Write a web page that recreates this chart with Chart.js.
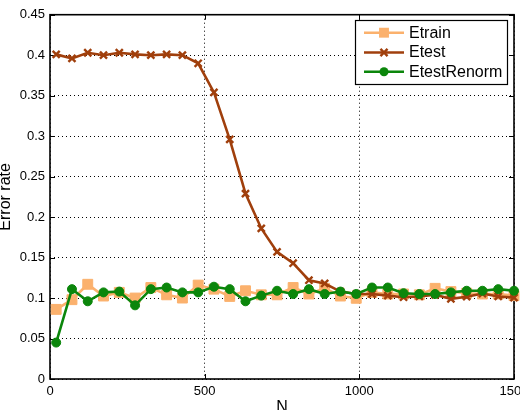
<!DOCTYPE html>
<html>
<head>
<meta charset="utf-8">
<script src="https://cdn.jsdelivr.net/npm/chart.js@4/dist/chart.umd.min.js"></script>
<style>
html,body{margin:0;padding:0;background:#fff;overflow:hidden;width:520px;height:410px;}
#wrap{position:absolute;left:0;top:0;width:540px;height:430px;}
</style>
</head>
<body>
<div id="wrap"><canvas id="c" width="540" height="430"></canvas></div>
<script>
const N = [20, 71, 122, 173, 224, 275, 326, 377, 428, 479, 530, 581, 632, 683, 734, 786, 837, 888, 939, 990, 1041, 1092, 1143, 1194, 1245, 1296, 1347, 1398, 1449, 1500];
const etrain = [0.086, 0.098, 0.117, 0.1025, 0.107, 0.100, 0.113, 0.104, 0.100, 0.116, 0.111, 0.102, 0.109, 0.104, 0.104, 0.113, 0.105, 0.112, 0.1025, 0.0997, 0.107, 0.105, 0.105, 0.104, 0.112, 0.108, 0.106, 0.105, 0.105, 0.103];
const etest = [0.401, 0.396, 0.403, 0.400, 0.403, 0.401, 0.400, 0.401, 0.400, 0.390, 0.354, 0.296, 0.229, 0.186, 0.157, 0.143, 0.122, 0.118, 0.108, 0.105, 0.105, 0.103, 0.101, 0.102, 0.104, 0.099, 0.1017, 0.1055, 0.102, 0.1005];
const etestRenorm = [0.045, 0.111, 0.096, 0.107, 0.108, 0.091, 0.111, 0.113, 0.107, 0.107, 0.114, 0.111, 0.096, 0.103, 0.109, 0.105, 0.111, 0.105, 0.108, 0.105, 0.113, 0.113, 0.106, 0.105, 0.105, 0.107, 0.109, 0.109, 0.111, 0.109];
const seriesNames = ['Etrain', 'Etest', 'EtestRenorm'];
const xTicks = [0, 500, 1000, 1500];
const yTicks = [0, 0.05, 0.1, 0.15, 0.2, 0.25, 0.3, 0.35, 0.4, 0.45];

const FONT = '"Liberation Sans", Arial, sans-serif';
const colors = ['#FBB16D', '#A03F0C', '#0B860B'];
const styles = ['rect', 'crossRot', 'circle'];
const radii = [7, 5, 4.5];

function pts(vals){ return N.map((n,i)=>({x:n, y:vals[i]})); }

const frameAndLegend = {
  id: 'frameAndLegend',
  beforeDatasetsDraw(chart){
    const {ctx, chartArea:{left,right,top,bottom}, scales:{x,y}} = chart;
    ctx.save();
    ctx.strokeStyle = '#000';
    ctx.lineWidth = 1;
    ctx.beginPath();
    xTicks.forEach(v=>{
      const px = Math.round(x.getPixelForValue(v))+0.5;
      ctx.moveTo(px,bottom); ctx.lineTo(px,bottom-5);
      ctx.moveTo(px,top); ctx.lineTo(px,top+5);
    });
    yTicks.forEach(v=>{
      const py = Math.round(y.getPixelForValue(v))+0.5;
      ctx.moveTo(left,py); ctx.lineTo(left+5,py);
      ctx.moveTo(right,py); ctx.lineTo(right-5,py);
    });
    ctx.stroke();
    ctx.lineWidth = 1.6;
    ctx.strokeRect(left, top, right-left, bottom-top);
    ctx.restore();
  },
  afterDraw(chart){
    const ctx = chart.ctx;
    const bx = 355, by = 20, bw = 152, bh = 64;
    ctx.save();
    ctx.fillStyle = '#fff';
    ctx.fillRect(bx, by, bw, bh);
    ctx.strokeStyle = '#000';
    ctx.lineWidth = 1.2;
    ctx.strokeRect(bx+0.5, by+0.5, bw, bh);
    const rows = [32.7, 52.5, 71.7];
    chart.data.datasets.forEach((ds, i)=>{
      const yy = rows[i];
      ctx.strokeStyle = ds.borderColor;
      ctx.lineWidth = ds.borderWidth;
      ctx.beginPath(); ctx.moveTo(364, yy); ctx.lineTo(404, yy); ctx.stroke();
      ctx.fillStyle = ds.pointBackgroundColor;
      ctx.strokeStyle = ds.pointBorderColor;
      ctx.lineWidth = ds.pointBorderWidth;
      ctx.beginPath();
      if (ds.pointStyle === 'rect') {
        const s = Math.SQRT1_2 * ds.pointRadius;
        ctx.rect(384-s, yy-s, 2*s, 2*s); ctx.fill();
      } else if (ds.pointStyle === 'circle') {
        ctx.arc(384, yy, ds.pointRadius, 0, Math.PI*2); ctx.fill();
      } else {
        const s = Math.SQRT1_2 * ds.pointRadius;
        ctx.moveTo(384-s,yy-s); ctx.lineTo(384+s,yy+s);
        ctx.moveTo(384+s,yy-s); ctx.lineTo(384-s,yy+s); ctx.stroke();
      }
      ctx.fillStyle = '#000';
      ctx.font = '16px ' + FONT;
      ctx.textAlign = 'left';
      ctx.textBaseline = 'middle';
      ctx.fillText(ds.label, 409, yy+0.5);
    });
    ctx.restore();
  }
};

const datasets = [etrain, etest, etestRenorm].map((vals, i)=>({
  label: seriesNames[i],
  data: pts(vals),
  borderColor: colors[i],
  backgroundColor: colors[i],
  pointBackgroundColor: colors[i],
  pointBorderColor: colors[i],
  borderWidth: 2.6,
  pointStyle: styles[i],
  pointRadius: radii[i],
  pointBorderWidth: i === 1 ? 2.4 : 1,
  pointHoverRadius: radii[i],
  tension: 0,
  clip: false,
  order: 3 - i
}));

new Chart(document.getElementById('c'), {
  type: 'line',
  data: { datasets },
  plugins: [frameAndLegend],
  options: {
    responsive: false,
    animation: false,
    devicePixelRatio: 1,
    layout: { padding: { left: 0, right: 26, top: 14.7, bottom: 0 } },
    plugins: { legend: { display: false }, tooltip: { enabled: false } },
    scales: {
      x: {
        type: 'linear', min: 0, max: 1500,
        afterBuildTicks: s => { s.ticks = xTicks.map(v=>({value:v})); },
        afterFit: s => { s.height = 51; },
        ticks: { color: '#000', font: { family: FONT, size: 13 }, padding: 5, maxRotation: 0,
                 callback: v => String(v) },
        grid: { color: '#000', lineWidth: 1, drawTicks: false },
        border: { display: false, dash: [1, 3] },
        title: { display: true, text: 'N', color: '#000', font: { family: FONT, size: 16, lineHeight: 0.75 }, padding: { top: 0, bottom: 16 } }
      },
      y: {
        type: 'linear', min: 0, max: 0.45,
        afterBuildTicks: s => { s.ticks = yTicks.map(v=>({value:v})); },
        afterFit: s => { s.width = 50; },
        ticks: { color: '#000', font: { family: FONT, size: 13 }, padding: 5,
                 callback: v => String(Number(v.toFixed(2))) },
        grid: { color: '#000', lineWidth: 1, drawTicks: false },
        border: { display: false, dash: [1, 3] },
        title: { display: true, text: 'Error rate', color: '#000', font: { family: FONT, size: 16, lineHeight: 0.75 }, padding: { top: 0, bottom: 0 } }
      }
    }
  }
});
</script>
</body>
</html>
